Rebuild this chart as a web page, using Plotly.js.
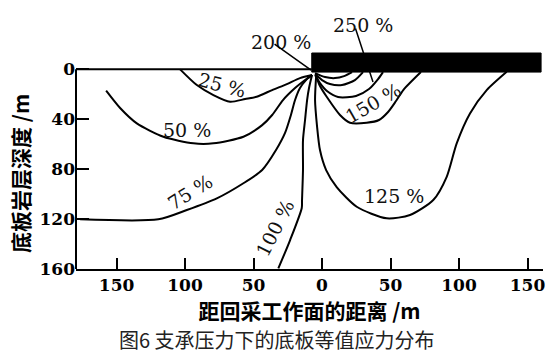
<!DOCTYPE html>
<html>
<head>
<meta charset="utf-8">
<script src="https://cdn.plot.ly/plotly-3.0.1.min.js"></script>
<style>html,body{margin:0;padding:0;background:#fff;}#chart{width:550px;height:353px;}</style>
</head>
<body>
<div id="chart"></div>
<script>
// ---- data (distance from face: negative = goaf side, depth in m) ----
var xTickVals = [-150, -100, -50, 0, 50, 100, 150];
var xTickText = ["150", "100", "50", "0", "50", "100", "150"];
var yTickVals = [0, 40, 80, 120, 160];
var yTickText = ["0", "40", "80", "120", "160"];

var c25x = [-103.6, -91.4, -79.3, -67.1, -56.1, -47.7, -36.4, -25.7, -16.1, -7.3];
var c25y = [0, 12.6, 20.6, 26, 23.8, 22, 16.6, 11.8, 7, 4.6];

var c50x = [-157.6, -147.4, -135.2, -115.8, -93.9, -79.3, -57.4, -43.7, -36.4, -28.5, -19.7, -12.4, -7.3];
var c50y = [17.1, 31, 43.3, 54, 59.3, 59.3, 54, 44.7, 36.6, 24.6, 15, 8.6, 4.6];

var c75x = [-176.6, -119.5, -98.7, -76.8, -57.4, -43.7, -33.6, -27, -22.7, -19.7, -16.1, -11.7, -7.3];
var c75y = [120.2, 120.2, 112.7, 103.4, 91.3, 80.7, 64.7, 51, 36.6, 24.6, 15, 8.6, 4.6];

var c100x = [-7.3, -9.5, -10.9, -12.4, -13.9, -13.9, -14.6, -14.8, -23.3, -31.9];
var c100y = [4.6, 15, 24.6, 40.6, 56.7, 80.7, 104.7, 111.1, 136.8, 159.5];

var c125x = [-4.3, -5.1, -3.6, -1.5, 3, 10.7, 25.3, 47.2, 64.2, 81.2, 91, 98.3, 108, 120.2, 134.8];
var c125y = [5.4, 24.6, 46.1, 64.7, 80.7, 94.3, 110.1, 119.4, 116.7, 104.7, 86.1, 59.3, 35.3, 16.6, 1.9];

var c150x = [-4.3, -1.5, 3.4, 13.1, 20.4, 32.6, 41.6, 48.2, 54, 59.3, 72.2];
var c150y = [5.4, 13.4, 22, 36.6, 42.8, 42.8, 40.6, 34.2, 25.4, 16.6, 2.2];

var cAx = [-5.1, 2.2, 9.5, 16.1, 21.9];
var cAy = [3, 6.2, 7, 5.4, 2.2];
var cBx = [-5.1, 0, 5.8, 14.6, 24, 29.9];
var cBy = [3.8, 8.6, 11.8, 12.6, 8.6, 2.2];
var cCx = [-5.1, -1.5, 3.6, 11.7, 24.8, 34.3, 40.9, 44.5];
var cCy = [4.6, 11, 17.4, 22.2, 21.4, 15.8, 7.8, 2.2];

// support block at the face
var barX = [-7.5, 159.9, 159.9, -7.5, -7.5];
var barY = [-13.1, -13.1, 2.2, 2.2, -13.1];

var labelText = ["25 %", "50 %", "75 %", "100 %", "125 %", "150 %"];
var labelX = [-73, -98.5, -96.4, -34.3, 52.6, 37.2];
var labelY = [12.6, 48.6, 98.3, 127.2, 101.5, 27];
var labelAngle = [15, 0, -32, -63, 0, -30];

// ---- chart ----
var xRange = [-179.6, 161.3];
var yRange = [160, -14.7];
var lineStyle = {color: '#000', width: 2, shape: 'spline', smoothing: 0.7};

function curve(x, y, name) {
  return {x: x, y: y, type: 'scatter', mode: 'lines', name: name, line: lineStyle, hoverinfo: 'skip'};
}

var traces = [
  {x: barX, y: barY, type: 'scatter', mode: 'lines', fill: 'toself', fillcolor: '#000',
   line: {color: '#000', width: 1}, hoverinfo: 'skip', name: 'face'},
  curve(c25x, c25y, '25%'),
  curve(c50x, c50y, '50%'),
  curve(c75x, c75y, '75%'),
  curve(c100x, c100y, '100%'),
  curve(c125x, c125y, '125%'),
  curve(c150x, c150y, '150%'),
  curve(cAx, cAy, 'inner1'),
  curve(cBx, cBy, 'inner2'),
  curve(cCx, cCy, 'inner3')
];

var serif = 'DejaVu Serif, Liberation Serif, serif';
var cjk = 'Noto Sans CJK SC, sans-serif';
var labelFont = {family: serif, size: 19, color: '#111'};

var annotations = [];
for (var i = 0; i < labelText.length; i++) {
  annotations.push({x: labelX[i], y: labelY[i], xref: 'x', yref: 'y', text: labelText[i],
    showarrow: false, textangle: labelAngle[i], font: labelFont});
}
// labels above the plot with leader lines
annotations.push({x: -29.9, y: 1.101, xref: 'x', yref: 'paper', text: '200 %', showarrow: false, font: labelFont});
annotations.push({x: 29.9, y: 1.177, xref: 'x', yref: 'paper', text: '250 %', showarrow: false, font: labelFont});
annotations.push({x: -8, y: 0.6, xref: 'x', yref: 'y', text: '', showarrow: true, arrowhead: 0,
  arrowwidth: 1.5, arrowcolor: '#000', ax: -38, ay: -27, standoff: 0});
annotations.push({x: 37.2, y: 10.2, xref: 'x', yref: 'y', text: '', showarrow: true, arrowhead: 0,
  arrowwidth: 1.5, arrowcolor: '#000', ax: -18, ay: -55, standoff: 0});
// y-axis title
annotations.push({x: -0.12, y: (269 - 173) / 218, xref: 'paper', yref: 'paper', text: '底板岩层深度 /m',
  showarrow: false, textangle: -90, xanchor: 'center', yanchor: 'middle',
  font: {family: cjk, size: 21, color: '#000', weight: 'bold'}});
// caption
annotations.push({x: (277 - 76) / 467, y: -(339 - 269) / 218, xref: 'paper', yref: 'paper',
  text: '图6 支承压力下的底板等值应力分布', showarrow: false, xanchor: 'center', yanchor: 'middle',
  font: {family: cjk, size: 20, color: '#222'}});

var layout = {
  width: 550, height: 353,
  margin: {l: 76, r: 7, t: 51, b: 84},
  paper_bgcolor: '#fff', plot_bgcolor: '#fff',
  showlegend: false,
  xaxis: {
    range: xRange, tickvals: xTickVals, ticktext: xTickText,
    showgrid: false, zeroline: false, showline: true, linecolor: '#000', linewidth: 2,
    ticks: 'inside', ticklen: 11, tickwidth: 2, tickcolor: '#000',
    tickfont: {family: serif, size: 17, color: '#000', weight: 'bold'},
    title: {text: '距回采工作面的距离 /m', standoff: 8,
            font: {family: cjk, size: 21, color: '#000', weight: 'bold'}},
    fixedrange: true
  },
  yaxis: {
    range: yRange, tickvals: yTickVals, ticktext: yTickText,
    showgrid: false, zeroline: false, showline: false,
    ticks: 'inside', ticklen: 13, tickwidth: 2, tickcolor: '#000',
    tickfont: {family: serif, size: 17, color: '#000', weight: 'bold'},
    fixedrange: true
  },
  shapes: [
    {type: 'line', xref: 'paper', yref: 'y', x0: 0, x1: 0, y0: 0, y1: 160,
     line: {color: '#000', width: 2}},
    {type: 'line', xref: 'x', yref: 'y', x0: xRange[0], x1: -7.5, y0: 0, y1: 0,
     line: {color: '#000', width: 2}}
  ],
  annotations: annotations
};

Plotly.newPlot('chart', traces, layout, {staticPlot: true, displayModeBar: false});
</script>
</body>
</html>
